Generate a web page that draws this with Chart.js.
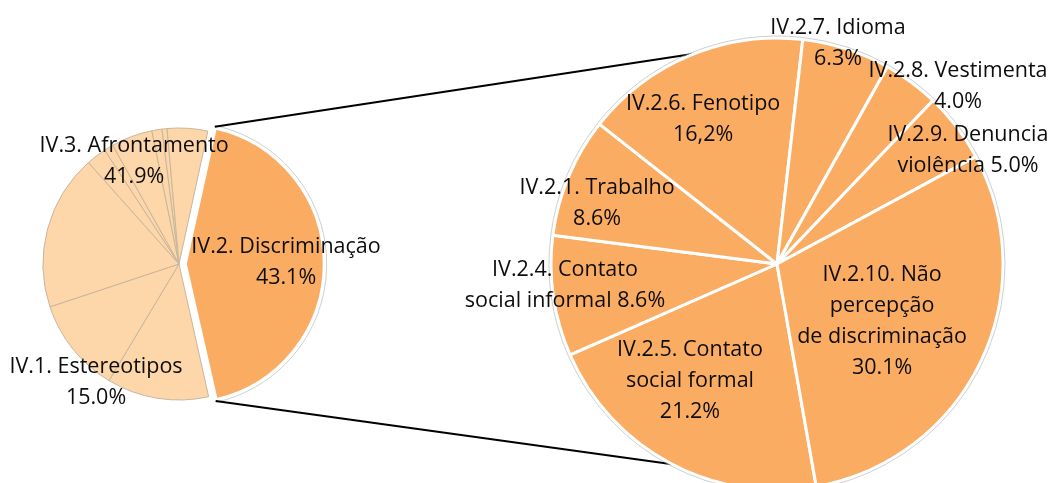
<!DOCTYPE html>
<html>
<head>
<meta charset="utf-8">
<script src="https://cdn.jsdelivr.net/npm/chart.js@4/dist/chart.umd.min.js"></script>
<style>
  html, body { margin: 0; padding: 0; background: #fff; }
  #wrap { position: relative; width: 1054px; height: 483px; overflow: hidden; }
  #wrap canvas { position: absolute; left: 0; top: 0; }
</style>
</head>
<body>
<div id="wrap">
  <canvas id="mainPie" width="1054" height="483"></canvas>
  <canvas id="detailPie" width="1054" height="483"></canvas>
</div>
<script>
// pizza principal: IV.3 e IV.1 aparecem divididos nas suas subcategorias
const afrontamentoParts = [12.1, 11.3, 18.5];
const estereotiposParts = [2.4, 1.1, 4.9, 1.2, 0.6, 4.8];
const discriminacao = 43.1;

// detalhe de IV.2. Discriminação (sentido horário a partir de "Contato social formal")
const detailLabels = ['IV.2.5. Contato social formal', 'IV.2.4. Contato social informal', 'IV.2.1. Trabalho',
  'IV.2.6. Fenotipo', 'IV.2.7. Idioma', 'IV.2.8. Vestimenta', 'IV.2.9. Denuncia violência',
  'IV.2.10. Não percepção de discriminação'];
const detailValues = [21.2, 8.6, 8.6, 16.2, 6.3, 4.0, 5.0, 30.1];

// texto dos rótulos, {v} = valor, {v,} = valor com vírgula
const detailText = [
  ['IV.2.5. Contato', 'social formal', '{v}%'],
  ['IV.2.4. Contato', 'social informal {v}%'],
  ['IV.2.1. Trabalho', '{v}%'],
  ['IV.2.6. Fenotipo', '{v,}%'],
  ['IV.2.7. Idioma', '{v}%'],
  ['IV.2.8. Vestimenta', '{v}%'],
  ['IV.2.9. Denuncia', 'violência {v}%'],
  ['IV.2.10. Não', 'percepção', 'de discriminação', '{v}%']
];

const LIGHT = '#FDD6A9';
const ORANGE = '#FAAC63';
const FONT = '21.5px "Open Sans"';
const LINE_H = 31;

const sum = a => a.reduce((s, x) => s + x, 0);
const fill = (t, v) => t.replace('{v,}', v.toFixed(1).replace('.', ',')).replace('{v}', v.toFixed(1));
const rad = deg => (deg - 90) * Math.PI / 180;

// posição real de um arco (considera o deslocamento "offset" do Chart.js)
function arcGeom(el) {
  const p = el.getProps(['x', 'y', 'startAngle', 'endAngle', 'outerRadius'], true);
  const off = (el.options.offset || 0) / 4;
  const half = (p.startAngle + p.endAngle) / 2;
  const fix = 1 - Math.sin(Math.min(Math.PI, p.endAngle - p.startAngle));
  return {
    x: p.x + Math.cos(half) * off,
    y: p.y + Math.sin(half) * off,
    r: p.outerRadius + off * fix,
    start: p.startAngle,
    end: p.endAngle
  };
}

// rótulos posicionados em frações do raio a partir do centro da pizza
function textPlugin(items) {
  return {
    id: 'pieText',
    afterDatasetsDraw(chart) {
      const el = chart.getDatasetMeta(0).data[0];
      const {x, y, outerRadius} = el.getProps(['x', 'y', 'outerRadius'], true);
      const ctx = chart.ctx;
      ctx.save();
      ctx.font = FONT;
      ctx.fillStyle = '#0d0d0d';
      ctx.textAlign = 'center';
      ctx.textBaseline = 'middle';
      items.forEach(it => {
        const cx = x + it.at[0] * outerRadius;
        const cy = y + it.at[1] * outerRadius;
        it.lines.forEach((t, i) => ctx.fillText(t, cx, cy + (i - (it.lines.length - 1) / 2) * LINE_H));
      });
      ctx.restore();
    }
  };
}

// contorno cinza fino na borda externa dos arcos indicados
function outlinePlugin(indexes) {
  return {
    id: 'pieOutline',
    afterDatasetsDraw(chart) {
      const meta = chart.getDatasetMeta(0);
      const ctx = chart.ctx;
      ctx.save();
      ctx.strokeStyle = 'rgba(175,175,175,0.6)';
      ctx.lineWidth = 1;
      indexes(meta.data.length).forEach(i => {
        const el = meta.data[i];
        const g = arcGeom(el);
        ctx.beginPath();
        ctx.arc(g.x, g.y, g.r + el.options.borderWidth / 2 + 0.5, g.start, g.end);
        ctx.stroke();
      });
      ctx.restore();
    }
  };
}

const mainValues = [...afrontamentoParts, ...estereotiposParts, discriminacao];
const nLight = afrontamentoParts.length + estereotiposParts.length;

const mainChart = new Chart(document.getElementById('mainPie'), {
  type: 'pie',
  data: {
    labels: mainValues.map((v, i) => i < afrontamentoParts.length ? 'IV.3. Afrontamento' :
      i < nLight ? 'IV.1. Estereotipos' : 'IV.2. Discriminação'),
    datasets: [{
      data: mainValues,
      backgroundColor: mainValues.map((v, i) => i < nLight ? LIGHT : ORANGE),
      borderColor: mainValues.map((v, i) => i < nLight ? '#C8B69C' : '#ffffff'),
      borderWidth: mainValues.map((v, i) => i < nLight ? 1 : 3.5),
      offset: mainValues.map((v, i) => i < nLight ? 0 : 24),
      clip: false
    }]
  },
  options: {
    responsive: false,
    animation: false,
    events: [],
    rotation: 167.4,
    radius: 136,
    layout: { padding: { left: 0, right: 696, top: 128, bottom: 83 } },
    plugins: { legend: { display: false }, tooltip: { enabled: false } }
  },
  plugins: [
    outlinePlugin(n => [n - 1]),
    textPlugin([
      { lines: ['IV.3. Afrontamento', sum(afrontamentoParts).toFixed(1) + '%'], at: [-0.33, -0.754] },
      { lines: ['IV.2. Discriminação', discriminacao.toFixed(1) + '%'], at: [0.787, -0.011] },
      { lines: ['IV.1. Estereotipos', sum(estereotiposParts).toFixed(1) + '%'], at: [-0.61, 0.871] }
    ])
  ]
});

// linhas que ligam a fatia IV.2 à pizza de detalhe
const connectors = {
  id: 'connectors',
  beforeDatasetsDraw(chart) {
    const mainMeta = mainChart.getDatasetMeta(0);
    const src = arcGeom(mainMeta.data[mainMeta.data.length - 1]);
    const dst = arcGeom(chart.getDatasetMeta(0).data[0]);
    const targets = [rad(338.5), rad(207.6)];
    const ctx = chart.ctx;
    ctx.save();
    ctx.strokeStyle = '#000';
    ctx.lineWidth = 2;
    [src.start, src.end].forEach((a, i) => {
      ctx.beginPath();
      ctx.moveTo(src.x + Math.cos(a) * (src.r + 1), src.y + Math.sin(a) * (src.r + 1));
      ctx.lineTo(dst.x + Math.cos(targets[i]) * dst.r, dst.y + Math.sin(targets[i]) * dst.r);
      ctx.stroke();
    });
    ctx.restore();
  }
};

const detailAnchors = [
  [-0.385, 0.515], [-0.938, 0.093], [-0.796, -0.27], [-0.327, -0.639],
  [0.27, -0.976], [0.801, -0.785], [0.845, -0.504], [0.465, 0.254]
];

new Chart(document.getElementById('detailPie'), {
  type: 'pie',
  data: {
    labels: detailLabels,
    datasets: [{
      data: detailValues,
      backgroundColor: ORANGE,
      borderColor: '#ffffff',
      borderWidth: 3,
      clip: false
    }]
  },
  options: {
    responsive: false,
    animation: false,
    events: [],
    rotation: 170,
    radius: 226,
    layout: { padding: { left: 551, right: 51, top: 138, bottom: 93 } },
    plugins: { legend: { display: false }, tooltip: { enabled: false } }
  },
  plugins: [
    connectors,
    outlinePlugin(n => Array.from({ length: n }, (_, i) => i)),
    textPlugin(detailText.map((lines, i) => ({
      lines: lines.map(t => fill(t, detailValues[i])),
      at: detailAnchors[i]
    })))
  ]
});
</script>
</body>
</html>
